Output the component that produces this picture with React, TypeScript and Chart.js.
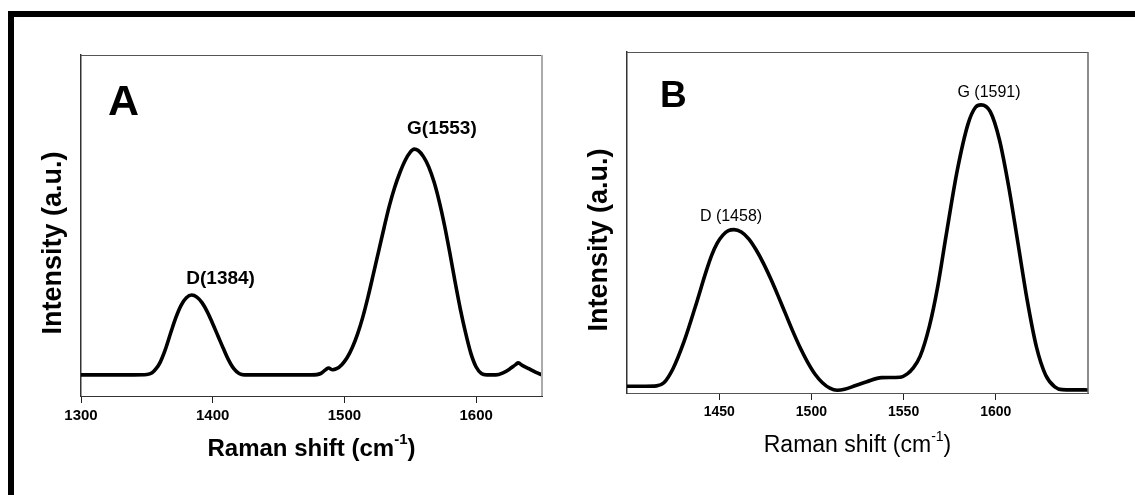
import React, { useEffect, useRef } from "react";
import { Chart, registerables } from "chart.js";

Chart.register(...registerables);

// ---------- Panel A data ----------
const xA = [1300, 1320, 1340, 1350, 1354, 1357, 1360, 1364, 1368, 1372, 1376, 1380, 1384, 1388, 1392, 1396, 1400, 1404, 1408, 1412, 1416, 1420, 1424, 1450, 1475, 1482, 1486, 1488, 1491, 1494, 1498, 1502, 1506, 1510, 1514, 1518, 1522, 1526, 1530, 1534, 1538, 1542, 1546, 1550, 1553, 1556, 1560, 1564, 1568, 1572, 1576, 1580, 1584, 1588, 1592, 1596, 1600, 1604, 1608, 1615, 1620, 1625, 1630, 1632, 1635, 1640, 1645, 1650];
const yA = [62, 62, 62, 63, 68, 80, 98, 136, 184, 230, 266, 288, 296, 290, 273, 246, 212, 176, 140, 106, 80, 66, 62, 62, 62, 66, 78, 82, 77, 80, 92, 112, 142, 182, 232, 292, 358, 425, 492, 556, 610, 654, 690, 715, 724, 720, 702, 672, 628, 570, 500, 420, 335, 255, 185, 125, 85, 66, 62, 62, 67, 78, 92, 97, 90, 80, 70, 62];
const ticksA = [1300, 1400, 1500, 1600];
const rangeA = [1300, 1650];
const peakTextA = ["D(1384)", "G(1553)"];
const peakTextXA = [1406, 1574];
const peakTextYA = [328, 768];

// ---------- Panel B data ----------
const xB = [1400, 1410, 1416, 1420, 1425, 1431, 1437, 1443, 1446, 1449, 1452, 1455, 1458, 1462, 1466, 1470, 1474, 1478, 1482, 1486, 1490, 1494, 1498, 1502, 1506, 1510, 1514, 1518, 1524, 1530, 1538, 1548, 1552, 1555, 1559, 1564, 1568.5, 1573, 1579, 1585, 1589, 1592, 1597, 1602, 1607, 1612, 1617, 1622, 1627, 1632, 1636, 1650];
const yB = [20, 20, 21, 30, 72, 152, 252, 358, 405, 440, 463, 476, 479, 472, 452, 420, 380, 334, 284, 232, 180, 132, 90, 55, 30, 14, 8, 11, 22, 33, 45, 46, 56, 72, 108, 196, 312, 460, 650, 790, 838, 845, 825, 742, 605, 440, 273, 136, 53, 18, 10, 9];
const ticksB = [1450, 1500, 1550, 1600];
const rangeB = [1400, 1650];
const peakTextB = ["D (1458)", "G (1591)"];
const peakTextXB = [1456.4, 1596.3];
const peakTextYB = [504, 868];

const yRange = [0, 1000];

const FONT = '"Liberation Sans", Arial, Helvetica, sans-serif';

type PanelProps = {
  xs: number[];
  ys: number[];
  ticks: number[];
  range: number[];
  peakText: string[];
  peakX: number[];
  peakY: number[];
  letter: string;
  style: any;
};

function fontStr(weight: string, size: number) {
  return `${weight} ${size}px ${FONT}`;
}

function drawSupTitle(ctx: CanvasRenderingContext2D, cx: number, baseline: number, main: string, sup: string, tail: string, size: number, weight: string) {
  const ss = Math.round(size * 0.62);
  ctx.font = fontStr(weight, size);
  const w1 = ctx.measureText(main).width;
  const w3 = ctx.measureText(tail).width;
  ctx.font = fontStr(weight, ss);
  const w2 = ctx.measureText(sup).width;
  let x = cx - (w1 + w2 + w3) / 2;
  ctx.textAlign = "left";
  ctx.textBaseline = "alphabetic";
  ctx.font = fontStr(weight, size);
  ctx.fillText(main, x, baseline);
  x += w1;
  ctx.font = fontStr(weight, ss);
  ctx.fillText(sup, x, baseline - size * 0.5);
  x += w2;
  ctx.font = fontStr(weight, size);
  ctx.fillText(tail, x, baseline);
}

function Panel(props: PanelProps) {
  const ref = useRef<HTMLCanvasElement | null>(null);
  useEffect(() => {
    const canvas = ref.current;
    if (!canvas) return;
    const st = props.style;
    const decor = {
      id: "decor",
      afterDraw(chart: any) {
        const ctx = chart.ctx as CanvasRenderingContext2D;
        const a = chart.chartArea;
        const xs = chart.scales.x;
        const ys = chart.scales.y;
        ctx.save();
        // top frame
        ctx.strokeStyle = st.topColor;
        ctx.lineWidth = 1;
        ctx.beginPath();
        ctx.moveTo(a.left, a.top + 0.5);
        ctx.lineTo(a.right, a.top + 0.5);
        ctx.stroke();
        // right frame
        ctx.strokeStyle = st.rightColor;
        ctx.lineWidth = st.rightWidth;
        ctx.beginPath();
        ctx.moveTo(a.right, a.top);
        ctx.lineTo(a.right, a.bottom);
        ctx.stroke();
        ctx.fillStyle = "#000";
        // panel letter
        ctx.font = fontStr("bold", st.letterSize);
        ctx.textAlign = "left";
        ctx.textBaseline = "alphabetic";
        ctx.fillText(props.letter, a.left + st.letterDx, a.top + st.letterDy);
        // peak labels
        ctx.font = fontStr(st.peakWeight, st.peakSize);
        ctx.textAlign = "center";
        for (let i = 0; i < props.peakText.length; i++) {
          ctx.fillText(props.peakText[i], xs.getPixelForValue(props.peakX[i]), ys.getPixelForValue(props.peakY[i]));
        }
        // x title
        drawSupTitle(ctx, (a.left + a.right) / 2, a.bottom + st.xTitleDy, "Raman shift (cm", "-1", ")", st.xTitleSize, st.xTitleWeight);
        // y title
        ctx.save();
        ctx.translate(a.left + st.yTitleDx, st.yTitleCy);
        ctx.rotate(-Math.PI / 2);
        ctx.font = fontStr("bold", st.yTitleSize);
        ctx.textAlign = "center";
        ctx.textBaseline = "middle";
        ctx.fillText("Intensity (a.u.)", 0, 0);
        ctx.restore();
        ctx.restore();
      },
    };
    const chart = new Chart(canvas, {
      type: "line",
      data: {
        datasets: [
          {
            data: props.xs.map((x, i) => ({ x, y: props.ys[i] })),
            borderColor: "#000",
            borderWidth: 3.6,
            pointRadius: 0,
            fill: false,
            tension: 0.4,
            cubicInterpolationMode: "monotone",
          },
        ],
      },
      options: {
        animation: false,
        responsive: false,
        maintainAspectRatio: false,
        devicePixelRatio: 1,
        layout: { padding: st.padding },
        plugins: { legend: { display: false }, tooltip: { enabled: false } },
        events: [],
        scales: {
          x: {
            type: "linear",
            min: props.range[0],
            max: props.range[1],
            afterFit: (s: any) => {
              s.height = 50;
            },
            afterBuildTicks: (s: any) => {
              s.ticks = props.ticks.map((v) => ({ value: v }));
            },
            grid: { display: true, drawOnChartArea: false, drawTicks: true, tickLength: 7, color: "#222", lineWidth: 1 },
            border: { display: true, color: st.bottomColor, width: 1 },
            ticks: {
              color: "#000",
              padding: 4,
              maxRotation: 0,
              autoSkip: false,
              font: { family: FONT, size: st.tickSize, weight: "bold" },
              callback: (v: any) => String(v),
            },
          },
          y: {
            type: "linear",
            min: yRange[0],
            max: yRange[1],
            afterFit: (s: any) => {
              s.width = 0;
            },
            grid: { display: false },
            border: { display: true, color: st.leftColor, width: 1.5 },
            ticks: { display: false },
          },
        },
      } as any,
      plugins: [decor],
    });
    return () => chart.destroy();
  }, []);
  return <canvas ref={ref} width={props.style.w} height={495} style={{ position: "absolute", left: props.style.left, top: 0, width: props.style.w, height: 495 }} />;
}

const styleA = {
  left: 0,
  w: 568,
  padding: { left: 81, right: 26, top: 55, bottom: 49 },
  topColor: "#555",
  rightColor: "#aaa",
  rightWidth: 2,
  bottomColor: "#333",
  leftColor: "#333",
  letterSize: 43,
  letterDx: 27,
  letterDy: 60,
  peakSize: 19,
  peakWeight: "bold",
  tickSize: 15,
  xTitleDy: 60,
  xTitleSize: 24,
  xTitleWeight: "bold",
  yTitleDx: -27,
  yTitleCy: 243,
  yTitleSize: 27,
};

const styleB = {
  left: 568,
  w: 567,
  padding: { left: 59, right: 47, top: 52, bottom: 52 },
  topColor: "#555",
  rightColor: "#666",
  rightWidth: 1.5,
  bottomColor: "#555",
  leftColor: "#333",
  letterSize: 37,
  letterDx: 33,
  letterDy: 55,
  peakSize: 16,
  peakWeight: "normal",
  tickSize: 14,
  xTitleDy: 59,
  xTitleSize: 23,
  xTitleWeight: "normal",
  yTitleDx: -27,
  yTitleCy: 240,
  yTitleSize: 27,
};

export default function App() {
  return (
    <div style={{ position: "absolute", left: 0, top: 0, width: 1135, height: 495, overflow: "hidden", background: "#fff" }}>
      <Panel xs={xA} ys={yA} ticks={ticksA} range={rangeA} peakText={peakTextA} peakX={peakTextXA} peakY={peakTextYA} letter="A" style={styleA} />
      <Panel xs={xB} ys={yB} ticks={ticksB} range={rangeB} peakText={peakTextB} peakX={peakTextXB} peakY={peakTextYB} letter="B" style={styleB} />
      <div style={{ position: "absolute", left: 8, top: 11, width: 1300, height: 700, border: "6px solid #000", boxSizing: "border-box" }} />
    </div>
  );
}
